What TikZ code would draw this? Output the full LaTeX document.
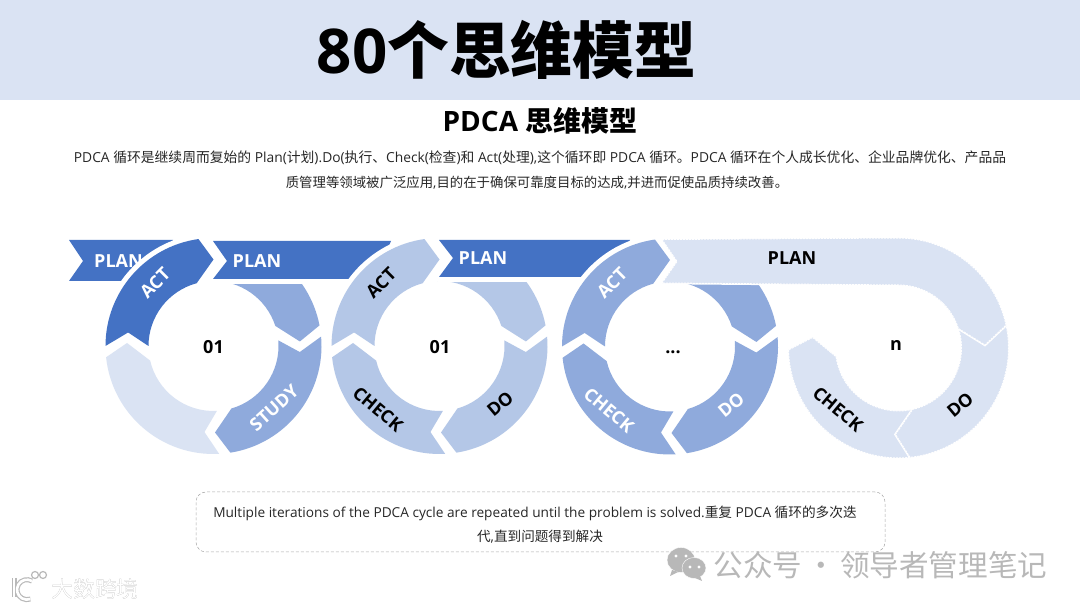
\documentclass[tikz,border=0pt]{standalone}
\usepackage{fontspec}
\usepackage[outline]{contour}
\setmainfont{Open Sans}
\newfontfamily\cnfont{Noto Sans CJK SC}
\newcommand{\cn}[1]{{\cnfont #1}}
\newcommand{\px}[1]{\fontsize{#1}{#1}\selectfont}
\definecolor{deepBlue}{HTML}{4472C4}
\definecolor{midBlue}{HTML}{8FAADC}
\definecolor{softBlue}{HTML}{B4C7E7}
\definecolor{paleBlue}{HTML}{DAE3F3}
\definecolor{bodyInk}{HTML}{262626}
\definecolor{markGrey}{HTML}{B8B8B8}
\newcommand{\ringSeg}[7]{%
  \pgfmathsetmacro\Rm{(#4+#5)/2}
  \path[#1,shift={(#2,#3)}] (#6:#4) arc[start angle=#6,end angle=#7+8,radius=#4]
    -- (#7:\Rm) -- (#7+15:#5) arc[start angle=#7+15,end angle=#6,radius=#5]
    -- (#6-9:\Rm) -- cycle;
}
\begin{document}
\begin{tikzpicture}
[x=1pt,y=1pt,
  segDecorate/.style={preaction={draw=white,solid,line width=10,line join=round},fill=#1},
  fourDecorate/.style={preaction={draw=white,solid,line width=2.5},fill=paleBlue,draw=white,line width=1,dash pattern=on 2 off 1},
  planDecorate/.style={text=white,font=\bfseries\px{18}},
  ringDecorate/.style={font=\bfseries\px{18},inner sep=0pt},
  bodyDecorate/.style={text=bodyInk,font=\px{#1},inner sep=0pt},
  bodyDecorate/.default=13.8]
\useasboundingbox (0,0) rectangle (1080,608);
%% top band and texts
\fill[paleBlue] (0,508) rectangle (1080,608);
\node (titleNode) at (506.5,558) [font=\bfseries\px{61.8},inner sep=0pt] {80\cn{个思维模型}};
\node (headNode) at (540,487) [font=\bfseries\px{28},inner sep=0pt] {PDCA \cn{思维模型}};
\node (bodyOne) at (540,450) [bodyDecorate] {PDCA \cn{循环是继续周而复始的} Plan(\cn{计划}).Do(\cn{执行}\cn{、}Check(\cn{检查})\cn{和} Act(\cn{处理}),\cn{这个循环即} PDCA \cn{循环。}PDCA \cn{循环在个人成长优化、企业品牌优化、产品品}};
\node (bodyTwo) at (537,425) [bodyDecorate=13.4] {\cn{质管理等领域被广泛应用},\cn{目的在于确保可靠度目标的达成},\cn{并进而促使品质持续改善。}};
%% bands and rings, back to front
\foreach \xl/\yt/\yb/\ym/\xt/\xb/\tx/\cx/\cy/\fa/\fb/\fc/\fd in {
  69/368/327/347/173/150/118.5/213.5/262/midBlue/midBlue/paleBlue/deepBlue,
  213/367/329/347/391/375/257/439.5/262/softBlue/softBlue/softBlue/softBlue,
  439/368/331/350/630/610/483/670/261.5/midBlue/midBlue/midBlue/midBlue}
{
  \path[segDecorate=deepBlue] (\xl,\yt) -- (\xt,\yt) -- (\xb,\yb) -- (\xl,\yb) -- (\xl+14,\ym) -- cycle;
  \node (plan\xl) at (\tx,\ym) [planDecorate] {PLAN};
  \ringSeg{segDecorate=\fa}{\cx}{\cy}{108}{65}{92}{3}
  \ringSeg{segDecorate=\fb}{\cx}{\cy}{108}{65}{5}{-89}
  \ringSeg{segDecorate=\fc}{\cx}{\cy}{108}{65}{-87}{-182}
  \ringSeg{segDecorate=\fd}{\cx}{\cy}{108}{65}{-180}{-270}
}
%% last ring
\ringSeg{fourDecorate}{898.5}{260}{110}{63}{-70}{-187}
\ringSeg{fourDecorate}{898.5}{260}{110}{63}{30}{-92}
\path[fourDecorate,shift={(898.5,260)}] (-236.5,108.5) -- (0,110) arc[start angle=90,end angle=12,radius=110]
  -- (2:86.5) -- (18:63) arc[start angle=18,end angle=90,radius=63] -- (-236.5,65) -- (-221.5,86.5) -- cycle;
\node (planLast) at (792,350) [font=\bfseries\px{18},inner sep=0pt] {PLAN};
%% labels on the rings
\foreach \nodename/\x/\y/\ang/\txt/\col in {
  actA/155/325/45/ACT/white, studyA/274/200/42/STUDY/white, numA/213.5/261/0/01/black,
  actB/381/325/45/ACT/black, checkB/378/199/-40/CHECK/black, doB/500/204/40/DO/black, numB/440/261/0/01/black,
  actC/612/325/45/ACT/white, checkC/609/198/-40/CHECK/white, doC/731/203/40/DO/white,
  checkD/838/199/-40/CHECK/black, doD/960/203/40/DO/black, numD/896/263/0/n/black}
{
  \node (\nodename) at (\x,\y) [ringDecorate,rotate=\ang,text=\col] {\txt};
}
\node (numC) at (673,256) [ringDecorate] {...};
%% note box
\node (noteBox) at (540.5,86) [draw=gray!70,dash pattern=on 3 off 2,line width=0.5,rounded corners=10,minimum width=689,minimum height=60] {};
\node (noteOne) at (535,95) [bodyDecorate=13.67] {Multiple iterations of the PDCA cycle are repeated until the problem is solved.\cn{重复} PDCA \cn{循环的多次迭}};
\node (noteTwo) at (540,71) [bodyDecorate=13.6] {\cn{代},\cn{直到问题得到解决}};
%% watermarks
\fill[markGrey,draw=white] (681,48) ellipse (14 and 12.5);
\fill[markGrey] (672,38) -- (670,32) -- (678,36) -- cycle;
\fill[markGrey,draw=white] (694,40) ellipse (12 and 10.5);
\fill[markGrey] (700,32) -- (702,27) -- (695,30) -- cycle;
\foreach \x/\y in {676/52, 686/52, 690/41, 699/41}
{
  \fill[white] (\x,\y) circle (1.7);
}
\node (markRight) at (880.5,43) [text=markGrey,font=\cnfont\px{29.6},inner sep=0pt] {公众号\kern4pt·\kern4pt领导者管理笔记};
\node (markLeft) at (95,19) [inner sep=0pt,font=\cnfont\px{22}] {\contourlength{0.6pt}\contour{gray!85}{\textcolor{white}{大数跨境}}};
\foreach \col/\wid in {gray!55/5, white/2.6}
{
  \draw[\col,line width=\wid] (14,30) -- (14,11);
  \draw[\col,line width=\wid] (32,27) arc[start angle=60,end angle=290,radius=10];
}
\draw[gray!55,line width=1.2] (35,33) circle (3.5) (43,33) circle (3.5);
\end{tikzpicture}
\end{document}
